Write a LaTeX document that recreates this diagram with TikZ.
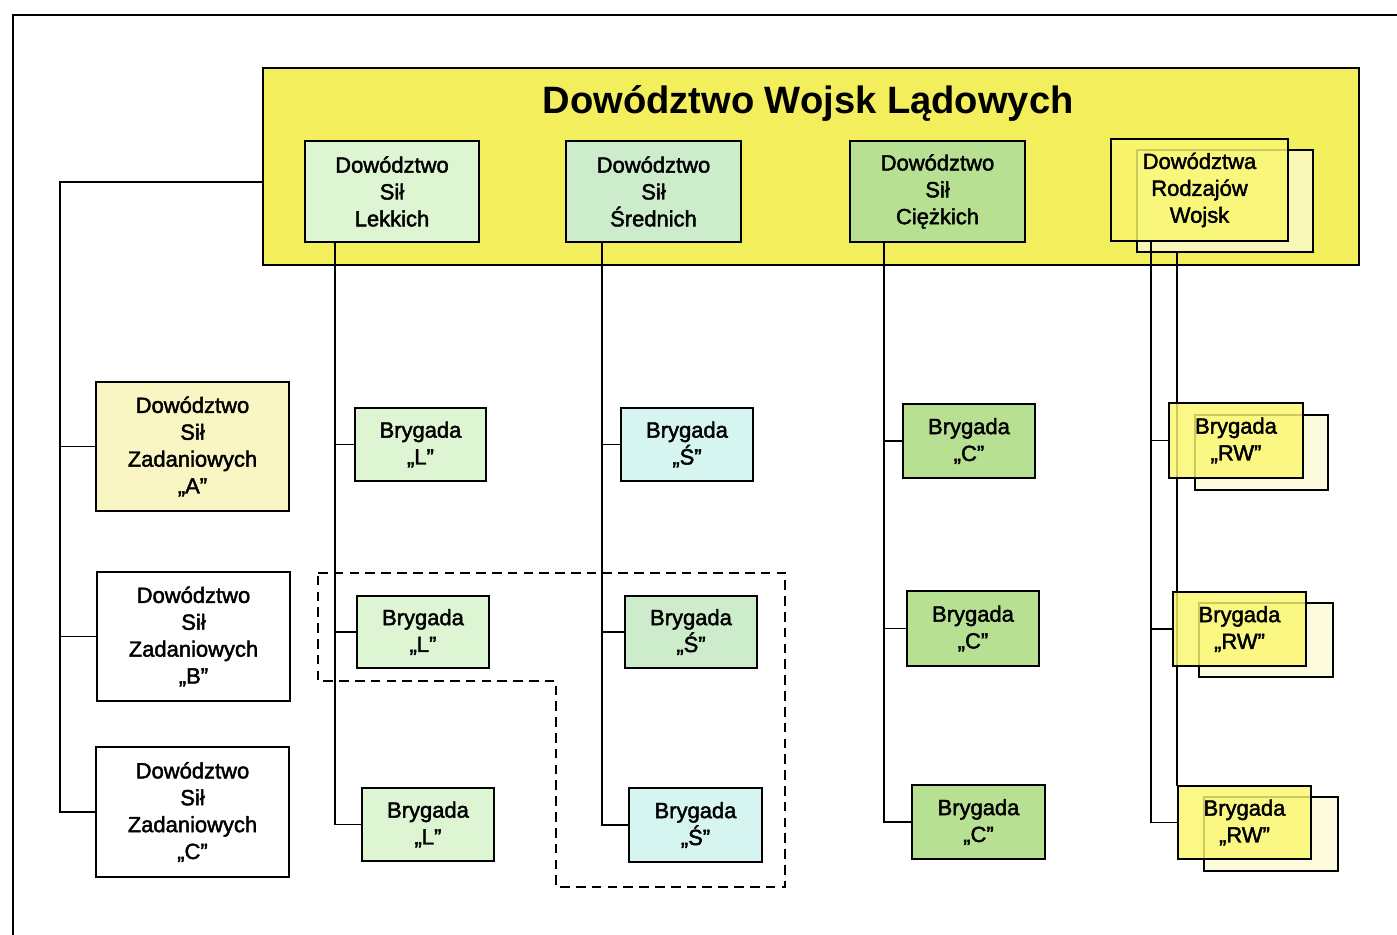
\documentclass[tikz,border=0pt]{standalone}
\usepackage{fontspec}
\setmainfont{Liberation Sans}
\newfontfamily\boxfont{Liberation Sans}[FakeBold=2]
\usetikzlibrary{positioning}
\definecolor{dwlyellow}{RGB}{242,238,92}
\definecolor{lgreen}{RGB}{222,245,212}
\definecolor{sgreen}{RGB}{204,236,204}
\definecolor{cgreen}{RGB}{184,224,146}
\definecolor{rwfront}{RGB}{250,247,110}
\definecolor{rwback}{RGB}{252,251,222}
\definecolor{zyellow}{RGB}{250,246,196}
\definecolor{scyan}{RGB}{214,244,240}

\begin{document}
\begin{tikzpicture}[x=0.02cm,y=-0.02cm,
  box/.style 2 args={draw,line width=1.2pt,minimum width=#1*0.02cm,minimum height=#2*0.02cm,
    inner sep=0pt,align=center,font=\boxfont\fontsize{12.5}{15.3}\selectfont},
  front/.style={fill=rwfront,fill opacity=0.82,text opacity=1},
  link/.style={line width=1.1pt}]
\useasboundingbox (0,0) rectangle (1397,935);
% frame
\draw[line width=1.2pt] (13,935) -- (13,15) -- (1397,15);
% Dowodztwo Wojsk Ladowych
\node[box={1096}{197},fill=dwlyellow] (DWL) at (811,166.5) {};
\node[font=\fontsize{21.7}{26}\bfseries\selectfont] (title) at (808,103) {Dowództwo Wojsk Lądowych};
\node[box={174}{101},fill=lgreen] (DSL) at (392,191.5) {Dowództwo\\Sił\\Lekkich};
\node[box={175}{101},fill=sgreen] (DSS) at (653.5,191.5) {Dowództwo\\Sił\\Średnich};
\node[box={175}{101},fill=cgreen] (DSC) at (937.5,191.5) {Dowództwo\\Sił\\Ciężkich};
\node[box={176}{102},fill=rwback!70!dwlyellow] (DRWb) at (1225,201) {};
% back boxes of RW
\node[box={133}{75},fill=rwback] (RW1b) at (1261.5,452.5) {};
\node[box={134}{74},fill=rwback] (RW2b) at (1266,640) {};
\node[box={134}{74},fill=rwback] (RW3b) at (1271,834) {};
\coordinate (rx) at (1177,0);
\coordinate (rwend) at (1177,786);
\draw[link] (DRWb.south -| rx) -- (rwend);
\node[box={177}{102},front] (DRW) at (1199.5,190) {Dowództwa\\Rodzajów\\Wojsk};
% task forces
\node[box={193}{129},fill=zyellow] (ZA) at (192.5,446.5) {Dowództwo\\Sił\\Zadaniowych\\„A”};
\node[box={193}{129},fill=white] (ZB) at (193.5,636.5) {Dowództwo\\Sił\\Zadaniowych\\„B”};
\node[box={193}{130},fill=white] (ZC) at (192.5,812) {Dowództwo\\Sił\\Zadaniowych\\„C”};
% brigades
\node[box={131}{73},fill=lgreen] (L1) at (420.5,444.5) {Brygada\\„L”};
\node[box={132}{72},fill=lgreen] (L2) at (423,632) {Brygada\\„L”};
\node[box={132}{73},fill=lgreen] (L3) at (428,824.5) {Brygada\\„L”};
\node[box={132}{73},fill=scyan] (S1) at (687,444.5) {Brygada\\„Ś”};
\node[box={132}{72},fill=sgreen] (S2) at (691,632) {Brygada\\„Ś”};
\node[box={133}{74},fill=scyan] (S3) at (695.5,825) {Brygada\\„Ś”};
\node[box={132}{74},fill=cgreen] (C1) at (969,441) {Brygada\\„C”};
\node[box={132}{75},fill=cgreen] (C2) at (973,628.5) {Brygada\\„C”};
\node[box={133}{74},fill=cgreen] (C3) at (978.5,822) {Brygada\\„C”};
\node[box={134}{75},front] (RW1) at (1236,440.5) {Brygada\\„RW”};
\node[box={133}{74},front] (RW2) at (1239.5,629) {Brygada\\„RW”};
\node[box={133}{73},front] (RW3) at (1244.5,822.5) {Brygada\\„RW”};
% connectors
\coordinate (zx) at (60,182);
\coordinate (lx) at (335,0);
\coordinate (sx) at (602,0);
\coordinate (cx) at (884,0);
\coordinate (wx) at (1151,0);
\draw[link] (DWL.west |- zx) -- (zx) -- (zx |- ZC.west) -- (ZC.west) (zx |- ZA.west) -- (ZA.west) (zx |- ZB.west) -- (ZB.west);
\draw[link] (DSL.south -| lx) -- (lx |- L3.west) -- (L3.west) (lx |- L1.west) -- (L1.west) (lx |- L2.west) -- (L2.west);
\draw[link] (DSS.south -| sx) -- (sx |- S3.west) -- (S3.west) (sx |- S1.west) -- (S1.west) (sx |- S2.west) -- (S2.west);
\draw[link] (DSC.south -| cx) -- (cx |- C3.west) -- (C3.west) (cx |- C1.west) -- (C1.west) (cx |- C2.west) -- (C2.west);
\draw[link] (DRW.south -| wx) -- (wx |- RW3.west) -- (RW3.west) (wx |- RW1.west) -- (RW1.west) (wx |- RW2.west) -- (RW2.west);
% grouping
\draw[link,dash pattern=on 5.5pt off 3.5pt] (318,573) -- (785,573) -- (785,887) -- (556,887) -- (556,681) -- (318,681) -- cycle;
\end{tikzpicture}
\end{document}
